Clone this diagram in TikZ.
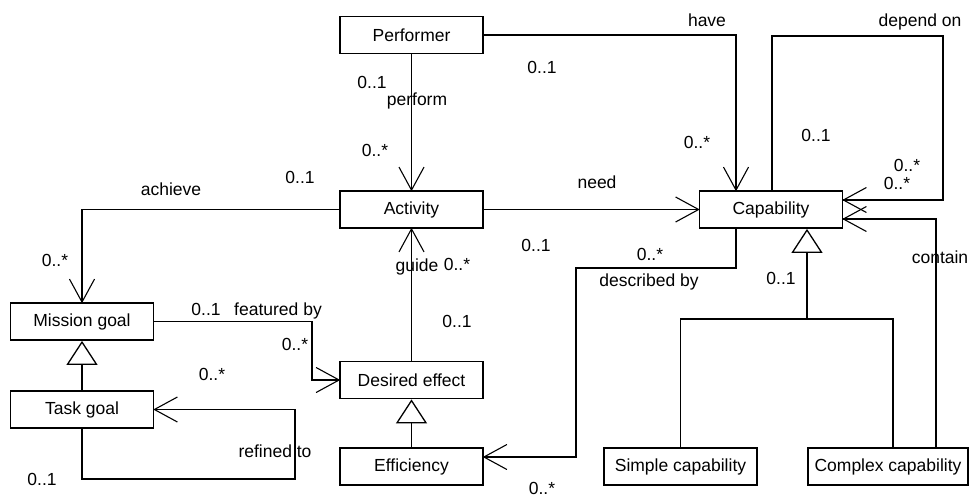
\documentclass[tikz,border=0pt]{standalone}
\usepackage{fontspec}
\setmainfont{Liberation Sans}
\usetikzlibrary{arrows.meta}
\pgfdeclarearrow{
  name = UMLVee,
  parameters = {\the\pgfarrowlength,\the\pgfarrowwidth},
  setup code = {
    \pgfarrowssettipend{0pt}
    \pgfarrowssetlineend{0pt}
    \pgfarrowsupperhullpoint{-\pgfarrowlength}{.5\pgfarrowwidth}
    \pgfarrowsupperhullpoint{0pt}{0pt}
    \pgfarrowssavethe\pgfarrowlength
    \pgfarrowssavethe\pgfarrowwidth
  },
  drawing code = {
    \pgfsetdash{}{0pt}
    \pgfsetmiterjoin
    \pgfpathmoveto{\pgfqpoint{-\pgfarrowlength}{.5\pgfarrowwidth}}
    \pgfpathlineto{\pgfpointorigin}
    \pgfpathlineto{\pgfqpoint{-\pgfarrowlength}{-.5\pgfarrowwidth}}
    \pgfusepathqstroke
  },
  defaults = {length=23pt, width=25pt}
}
\begin{document}
\begin{tikzpicture}[x=1pt,y=-1pt,
  every node/.style={font=\fontsize{17.5}{20}\selectfont},
  box/.style={draw, line width=1.8pt, inner sep=0pt, minimum height=37pt, minimum width=143pt},
  lab/.style={inner sep=0pt, text height=12.6pt, text depth=0pt},
  assoc/.style={line width=1.1pt, -{UMLVee[length=23pt,width=25pt]}},
  gen/.style={line width=1.1pt, -{Triangle[open,length=24pt,width=31pt,line width=1.3pt,fill=white]}},
  plain/.style={line width=1.1pt}]
\useasboundingbox (0,0) rectangle (971,498);
% boxes
\node[box] (perf) at (411.5,35) {Performer};
\node[box] (act) at (411.5,209.5) {Activity};
\node[box] (cap) at (771,209.5) {Capability};
\node[box] (mg) at (82,321.5) {Mission goal};
\node[box] (tg) at (82,409.5) {Task goal};
\node[box] (de) at (411.5,380) {Desired effect};
\node[box] (eff) at (411.5,466.5) {Efficiency};
\node[box, minimum width=153pt] (simple) at (680.5,466.5) {Simple capability};
\node[box, minimum width=160pt] (cplx) at (888,466.5) {Complex capability};
% helper coordinates
\coordinate (dep1) at (943,36);
\coordinate (f1) at (312,350);
\coordinate (r1) at (295,479);
\coordinate (d1) at (576,268);
\coordinate (j) at (807,319);
% connectors
\draw[assoc] (perf.south) -- (act.north);
\draw[assoc] (perf.east) -| ([xshift=-35pt]cap.north);
\draw[assoc] ([xshift=1pt]cap.north) |- (dep1) |- ([yshift=9.5pt]cap.east);
\draw[assoc] ([xshift=48pt]cplx.north) |- ([yshift=-9.5pt]cap.east);
\draw[assoc] (act.east) -- (cap.west);
\draw[assoc] (act.west) -| (mg.north);
\draw[assoc] (de.north) -- (act.south);
\draw[assoc] (mg.east) -| (f1) |- (de.west);
\draw[assoc] (tg.south) |- (r1) |- (tg.east);
\draw[assoc] ([xshift=-35pt]cap.south) |- (d1) |- ([yshift=9.5pt]eff.east);
\draw[gen] (tg.north) -- (mg.south);
\draw[gen] (eff.north) -- (de.south);
\draw[plain] (simple.north) |- (j) -| ([xshift=5pt]cplx.north);
\draw[gen] (j) -- ([xshift=36pt]cap.south);
% labels
\node[lab] (l1) at (707,20) {have};
\node[lab] (l2) at (542,67) {0..1};
\node[lab] (l3) at (697,142) {0..*};
\node[lab] (l4) at (920,20) {depend on};
\node[lab] (l5) at (816,135) {0..1};
\node[lab] (l6) at (907,165) {0..*};
\node[lab] (l7) at (897,183) {0..*};
\node[lab] (l8) at (597,182) {need};
\node[lab] (l9) at (372,82) {0..1};
\node[lab] (l10) at (417,99) {perform};
\node[lab] (l11) at (375,150) {0..*};
\node[lab] (l12) at (300,177) {0..1};
\node[lab] (l13) at (171,189) {achieve};
\node[lab] (l14) at (536,245) {0..1};
\node[lab] (l15) at (650,254) {0..*};
\node[lab] (l16) at (649,280) {described by};
\node[lab] (l17) at (417,265) {guide};
\node[lab] (l18) at (457,264) {0..*};
\node[lab] (l19) at (55,260) {0..*};
\node[lab] (l20) at (206,309) {0..1};
\node[lab] (l21) at (278,309) {featured by};
\node[lab] (l22) at (457,321) {0..1};
\node[lab] (l23) at (295,344) {0..*};
\node[lab] (l24) at (212,374) {0..*};
\node[lab] (l25) at (275,451) {refined to};
\node[lab] (l26) at (42,479) {0..1};
\node[lab] (l27) at (542,488.5) {0..*};
\node[lab] (l28) at (781,278) {0..1};
\node[lab] (l29) at (940,257) {contain};
\end{tikzpicture}
\end{document}
